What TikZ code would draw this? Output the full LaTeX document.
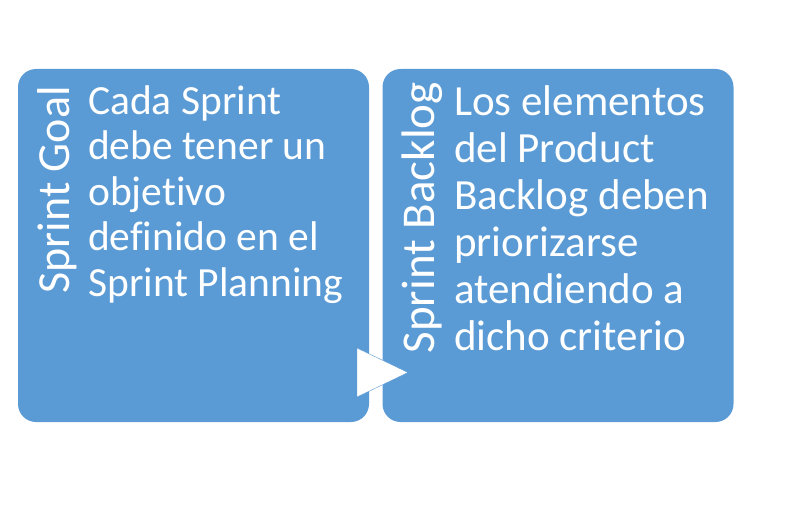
\documentclass[tikz,border=0pt]{standalone}
\usepackage{fontspec}
\setmainfont{Carlito}[Ligatures={NoCommon,TeX}]
\usetikzlibrary{positioning}
\definecolor{boxblue}{HTML}{5B9BD5}
\tikzset{
  card/.style={fill=boxblue,rounded corners=18pt,inner sep=0pt,
    minimum width=351pt,minimum height=353pt},
  title/.style={text=white,rotate=90,anchor=base east,inner sep=0pt},
  body/.style={text=white,align=left,anchor=base west,inner sep=0pt},
}
\begin{document}
\begin{tikzpicture}[x=1pt,y=-1pt]
        \useasboundingbox (0,0) rectangle (792,511);

        \node[card] (goal) at (193.5,245.5) {};
        \node[card] (backlog) at (558,245.5) {};

        \fill[white,draw=boxblue,line width=.4pt] (357,348) -- (408,372.5) -- (357,397) -- cycle;

        \node[title,font=\fontsize{46}{50}\selectfont] (goaltitle) at (69,86) {Sprint Goal};
        \node[body,font=\fontsize{41.5}{45.4}\selectfont] (goaltext) at (88,296) {Cada Sprint\\debe tener un\\objetivo\\definido en el\\Sprint Planning};

        \node[title,font=\fontsize{47}{50}\selectfont] (backlogtitle) at (434,82) {Sprint Backlog};
        \node[body,font=\fontsize{43}{47}\selectfont] (backlogtext) at (454,350) {Los elementos\\del Product\\Backlog deben\\priorizarse\\atendiendo a\\dicho criterio};
      \end{tikzpicture}
\end{document}
